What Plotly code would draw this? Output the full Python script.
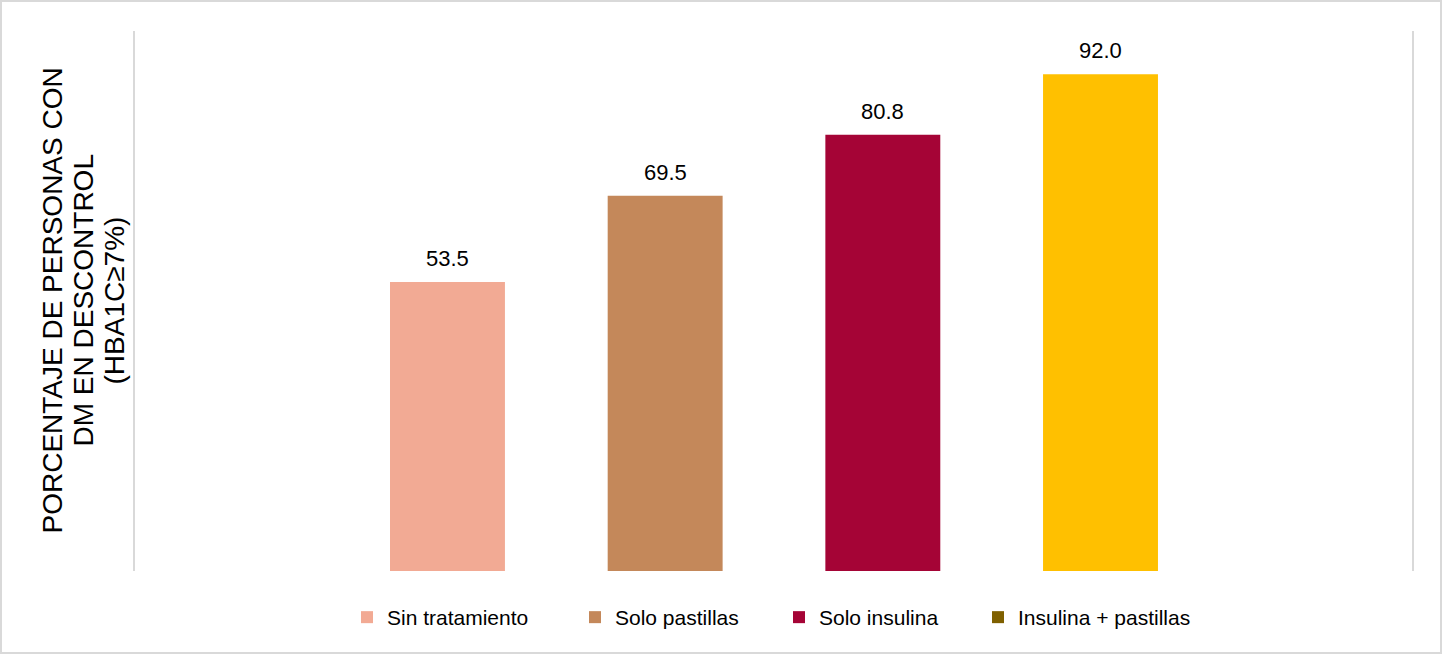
import plotly.graph_objects as go

# ---- data ----
categories = ["Sin tratamiento", "Solo pastillas", "Solo insulina", "Insulina + pastillas"]
values = [53.5, 69.5, 80.8, 92.0]
bar_colors = ["#F2AA94", "#C4885A", "#A50436", "#FFC000"]
legend_colors = ["#F2AA94", "#C4885A", "#A50436", "#7F6000"]
y_title_lines = ["PORCENTAJE DE PERSONAS CON", "DM EN DESCONTROL", "(HBA1C≥7%)"]

FONT = "Liberation Sans, Arial, sans-serif"
W, H = 1442, 654
ML, MR, MT, MB = 135, 30, 31, 83
PW = W - ML - MR
PH = H - MT - MB

fig = go.Figure()

# bars (no legend entries)
for cat, val, col in zip(categories, values, bar_colors):
    fig.add_trace(go.Bar(
        x=[cat], y=[val], width=0.528,
        marker=dict(color=col, line=dict(width=0)),
        showlegend=False, hoverinfo="x+y",
    ))

# legend entries (one legend per item so each can be placed like the original)
legend_text_starts = [383, 611, 815, 1014]
legend_names = ["legend", "legend2", "legend3", "legend4"]
for cat, col, lname in zip(categories, legend_colors, legend_names):
    fig.add_trace(go.Bar(
        x=[cat], y=[None], name=cat,
        marker=dict(color=col, line=dict(width=0)),
        showlegend=True, legend=lname, hoverinfo="skip",
    ))

legend_y = (MT + PH - 617.5) / PH
legend_layouts = {}
for lname, tx in zip(legend_names, legend_text_starts):
    legend_layouts[lname] = dict(
        x=(tx - 36 - ML) / PW, xanchor="left",
        y=legend_y, yanchor="middle",
        orientation="h",
        font=dict(family=FONT, size=21, color="#000000"),
        bgcolor="rgba(0,0,0,0)", borderwidth=0,
        itemclick=False, itemdoubleclick=False,
    )

# value labels
annotations = []
for cat, val in zip(categories, values):
    annotations.append(dict(
        x=cat, y=val, xref="x", yref="y",
        text=f"{val:.1f}", showarrow=False,
        yanchor="bottom", xanchor="center", yshift=9,
        font=dict(family=FONT, size=22, color="#000000"),
    ))

# y-axis title lines
for i, line in enumerate(y_title_lines):
    annotations.append(dict(
        x=0, y=0.5, xref="paper", yref="paper",
        xshift=(51.5 + 31 * i) - ML,
        text=line, showarrow=False, textangle=-90,
        xanchor="center", yanchor="middle",
        font=dict(family=FONT, size=28, color="#000000"),
    ))

# outer border
shapes = [dict(
    type="rect", xref="paper", yref="paper",
    x0=(1 - ML) / PW, x1=(W - 1 - ML) / PW,
    y0=(MT + PH - (H - 1)) / PH, y1=(MT + PH - 1) / PH,
    line=dict(color="#D9D9D9", width=2), fillcolor="rgba(0,0,0,0)", layer="below",
)]

fig.update_layout(
    width=W, height=H, autosize=False,
    margin=dict(l=ML, r=MR, t=MT, b=MB, pad=0),
    paper_bgcolor="white", plot_bgcolor="white",
    barmode="overlay",
    font=dict(family=FONT, color="#000000"),
    xaxis=dict(
        type="category", categoryorder="array", categoryarray=categories,
        range=[-1.4355, 4.431], showticklabels=False, ticks="",
        showgrid=False, zeroline=False, showline=False, fixedrange=True,
    ),
    yaxis=dict(
        range=[0, 100], showticklabels=False, ticks="",
        showgrid=False, zeroline=False,
        showline=True, mirror=True, linecolor="#D9D9D9", linewidth=2,
        fixedrange=True,
    ),
    annotations=annotations,
    shapes=shapes,
    **legend_layouts,
)

fig.write_html(
    "out.html",
    config={"displayModeBar": False},
    post_script="document.body.style.margin='0px';document.body.style.overflow='hidden';",
)
